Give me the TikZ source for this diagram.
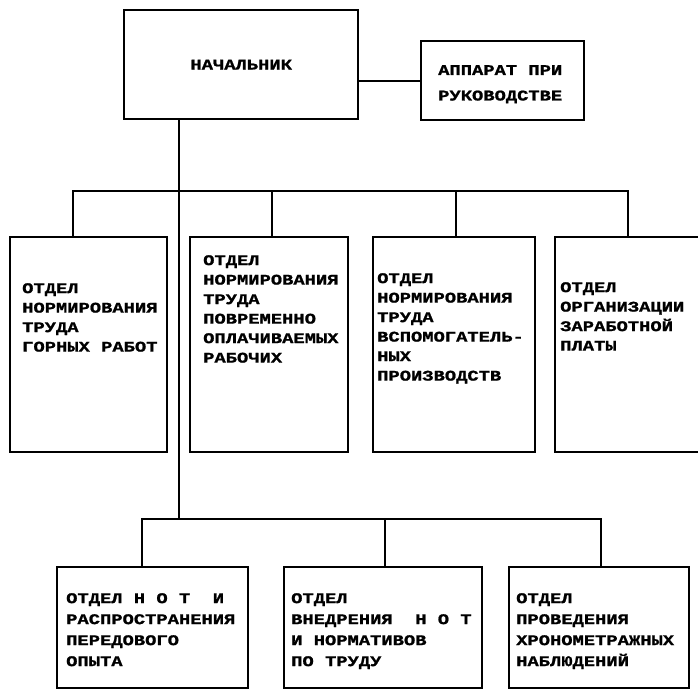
\documentclass[tikz,border=0pt]{standalone}
\usepackage{fontspec}
\newfontfamily\typewr[FakeStretch=1.27, FakeBold=1.2]{Liberation Mono}
\usetikzlibrary{positioning}

\begin{document}
\begin{tikzpicture}[x=1pt, y=-1pt,
    box/.style={draw, line width=2.4pt, inner sep=0pt, anchor=north west},
    txt/.style={anchor=north west, inner sep=0pt, align=left, font=\typewr\bfseries\fontsize{14.8}{19.5}\selectfont},
    txtb/.style={txt, font=\typewr\bfseries\fontsize{14.8}{21}\selectfont},
    link/.style={line width=1.8pt, line join=miter}]
    \useasboundingbox (0,0) rectangle (698,689);

    % 上层
    \node[box, minimum width=234, minimum height=109] (chief) at (123,9) {};
    \node[txt, anchor=center] (chieftxt) at (chief.center) {НАЧАЛЬНИК};
    \node[box, minimum width=163, minimum height=79] (app) at (420,40) {};
    \node[txt] (apptxt) at ([shift={(18,25)}]app.north west) {АППАРАТ ПРИ\\[6pt]РУКОВОДСТВЕ};
    \draw[link] (chief.east |- app.west) -- (app.west);

    % 第一排
    \node[box, minimum width=157, minimum height=215] (d1) at (9,236) {};
    \node[box, minimum width=158, minimum height=215] (d2) at (189,236) {};
    \node[box, minimum width=162, minimum height=215] (d3) at (372,236) {};
    \node[box, minimum width=150, minimum height=215] (d4) at (554,236) {};
    \node[txt] (d1txt) at ([shift={(13,47)}]d1.north west) {ОТДЕЛ\\НОРМИРОВАНИЯ\\ТРУДА\\ГОРНЫХ РАБОТ};
    \node[txt] (d2txt) at ([shift={(14,19)}]d2.north west) {ОТДЕЛ\\НОРМИРОВАНИЯ\\ТРУДА\\ПОВРЕМЕННО\\ОПЛАЧИВАЕМЫХ\\РАБОЧИХ};
    \node[txt] (d3txt) at ([shift={(5,37)}]d3.north west) {ОТДЕЛ\\НОРМИРОВАНИЯ\\ТРУДА\\ВСПОМОГАТЕЛЬ-\\НЫХ\\ПРОИЗВОДСТВ};
    \node[txt] (d4txt) at ([shift={(6,46)}]d4.north west) {ОТДЕЛ\\ОРГАНИЗАЦИИ\\ЗАРАБОТНОЙ\\ПЛАТЫ};

    % 第二排
    \node[box, minimum width=191, minimum height=121] (e1) at (56,566) {};
    \node[box, minimum width=198, minimum height=121] (e2) at (283,566) {};
    \node[box, minimum width=180, minimum height=121] (e3) at (508,566) {};
    \node[txtb] (e1txt) at ([shift={(10,27)}]e1.north west) {ОТДЕЛ Н~О~Т~~И\\РАСПРОСТРАНЕНИЯ\\ПЕРЕДОВОГО\\ОПЫТА};
    \node[txtb] (e2txt) at ([shift={(8,27)}]e2.north west) {ОТДЕЛ\\ВНЕДРЕНИЯ~~Н~О~Т\\И НОРМАТИВОВ\\ПО ТРУДУ};
    \node[txtb] (e3txt) at ([shift={(8,27)}]e3.north west) {ОТДЕЛ\\ПРОВЕДЕНИЯ\\ХРОНОМЕТРАЖНЫХ\\НАБЛЮДЕНИЙ};

    % 连线
    \coordinate (u1) at (73,191);
    \coordinate (u2) at (272,191);
    \coordinate (u3) at (456,191);
    \coordinate (u4) at (628,191);
    \coordinate (l1) at (142,519);
    \coordinate (l2) at (385,519);
    \coordinate (l3) at (601,519);
    \coordinate (s1) at (179,519);
    \draw[link] (chief.south -| s1) -- (s1);
    \draw[link] (u1 |- d1.north) -- (u1) -- (u4) -- (u4 |- d4.north);
    \draw[link] (u2) -- (u2 |- d2.north);
    \draw[link] (u3) -- (u3 |- d3.north);
    \draw[link] (l1 |- e1.north) -- (l1) -- (l3) -- (l3 |- e3.north);
    \draw[link] (l2) -- (l2 |- e2.north);
\end{tikzpicture}
\end{document}
